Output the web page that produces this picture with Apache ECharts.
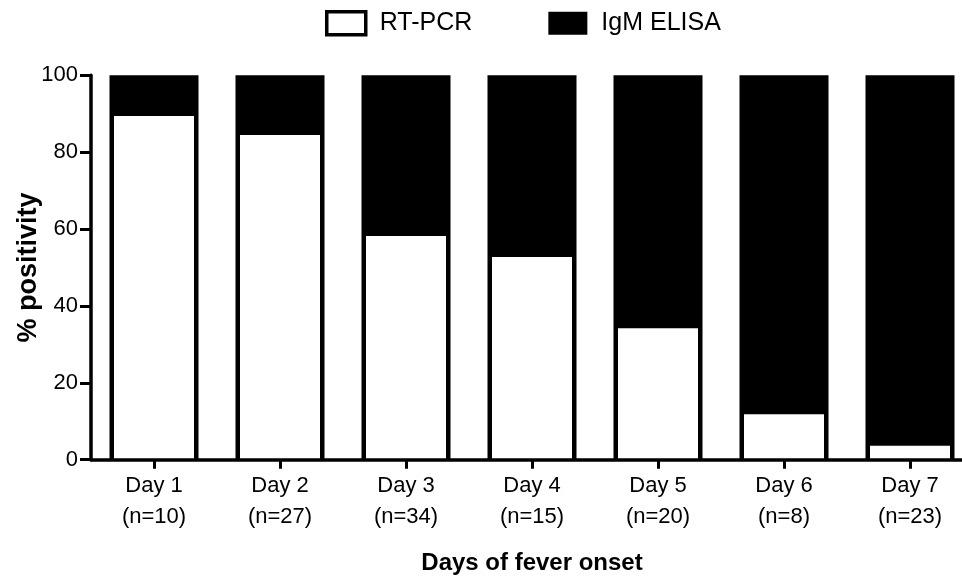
<!DOCTYPE html>
<html>
<head>
<meta charset="utf-8">
<script src="https://cdn.jsdelivr.net/npm/echarts@6/dist/echarts.min.js"></script>
<style>
html,body{margin:0;padding:0;background:#fff;}
#chart{width:962px;height:577px;}
</style>
</head>
<body>
<div id="chart"></div>
<script>
var days = ['Day 1','Day 2','Day 3','Day 4','Day 5','Day 6','Day 7'];
var sampleSizes = [10, 27, 34, 15, 20, 8, 23];
var rtPcr = [89.4, 84.5, 58.2, 52.7, 34.2, 11.8, 3.6];
var igmElisa = [100, 100, 100, 100, 100, 100, 100];
var seriesNames = ['RT-PCR', 'IgM ELISA'];

var FONT = "'Liberation Sans', Arial, Helvetica, sans-serif";
var chart = echarts.init(document.getElementById('chart'));
var labels = days.map(function (d, i) { return d + '\n(n=' + sampleSizes[i] + ')'; });

chart.setOption({
  animation: false,
  backgroundColor: '#fff',
  textStyle: { fontFamily: FONT, color: '#000' },
  legend: {
    top: 5,
    left: 320,
    itemWidth: 39,
    itemHeight: 23,
    itemGap: 76,
    textStyle: { fontFamily: FONT, fontSize: 25, color: '#000', padding: [0, 0, 0, 9] },
    data: [
      { name: seriesNames[0], icon: 'rect', itemStyle: { color: '#fff', borderColor: '#000', borderWidth: 3.5 } },
      { name: seriesNames[1], icon: 'rect', itemStyle: { color: '#000', borderColor: '#000', borderWidth: 0 } }
    ]
  },
  grid: {
    left: 91,
    top: 75.3,
    width: 882,
    height: 384.4,
    containLabel: false,
    outerBoundsMode: 'none'
  },
  xAxis: [
    {
      type: 'category',
      data: labels,
      boundaryGap: true,
      z: 10,
      name: 'Days of fever onset',
      nameLocation: 'middle',
      nameGap: 92,
      nameMoveOverlap: false,
      nameTextStyle: { fontFamily: FONT, fontSize: 24, fontWeight: 'bold', color: '#000' },
      axisLine: { show: true, lineStyle: { color: '#000', width: 3.5 } },
      axisTick: { show: true, alignWithLabel: true, length: 9, lineStyle: { color: '#000', width: 3 } },
      axisLabel: { fontFamily: FONT, fontSize: 22, color: '#000', lineHeight: 31, margin: 11, interval: 0 },
      splitLine: { show: false }
    },
    {
      type: 'category',
      data: labels,
      boundaryGap: true,
      position: 'bottom',
      show: false
    }
  ],
  yAxis: {
    type: 'value',
    min: 0,
    max: 100,
    interval: 20,
    z: 10,
    name: '% positivity',
    nameLocation: 'middle',
    nameGap: 49,
    nameMoveOverlap: false,
    nameRotate: 90,
    nameTextStyle: { fontFamily: FONT, fontSize: 27, fontWeight: 'bold', color: '#000' },
    axisLine: { show: true, lineStyle: { color: '#000', width: 3.5 } },
    axisTick: { show: true, length: 11, lineStyle: { color: '#000', width: 3 } },
    axisLabel: { fontFamily: FONT, fontSize: 22, color: '#000', margin: 13 },
    splitLine: { show: false }
  },
  series: [
    {
      name: seriesNames[1],
      type: 'bar',
      xAxisIndex: 0,
      data: igmElisa,
      barWidth: 89,
      z: 2,
      itemStyle: { color: '#000', borderWidth: 0 }
    },
    {
      name: seriesNames[0],
      type: 'bar',
      xAxisIndex: 1,
      data: rtPcr,
      barWidth: 80,
      z: 3,
      itemStyle: { color: '#fff', borderWidth: 0 }
    }
  ]
});
</script>
</body>
</html>
